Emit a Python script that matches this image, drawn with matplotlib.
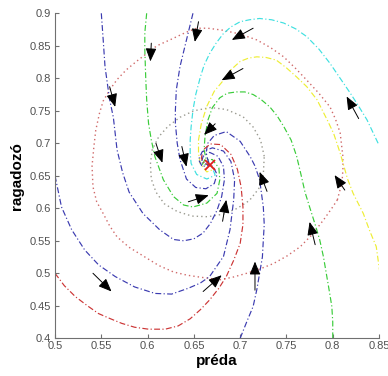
import matplotlib
matplotlib.use("Agg")
import matplotlib.pyplot as plt
from matplotlib.patches import FancyArrowPatch

plt.rcParams['font.family'] = ['Liberation Sans', 'DejaVu Sans']

# ---- trajectories (préda, ragadozó) ----
blue_top_x = [0.550, 0.552, 0.554, 0.559, 0.563, 0.567, 0.573, 0.580, 0.595, 0.613, 0.628, 0.639,
              0.650, 0.660, 0.668, 0.675, 0.680, 0.683, 0.682, 0.676, 0.667, 0.660, 0.658, 0.667]
blue_top_y = [0.900, 0.860, 0.818, 0.767, 0.740, 0.690, 0.655, 0.625, 0.592, 0.567, 0.552, 0.550,
              0.553, 0.562, 0.577, 0.597, 0.618, 0.644, 0.664, 0.680, 0.686, 0.680, 0.670, 0.667]

green_top_x = [0.599, 0.597, 0.597, 0.598, 0.599, 0.601, 0.604, 0.608, 0.617, 0.628, 0.639, 0.649,
               0.664, 0.675, 0.678, 0.677, 0.670, 0.662, 0.659, 0.667]
green_top_y = [0.900, 0.870, 0.844, 0.800, 0.767, 0.731, 0.705, 0.679, 0.644, 0.618, 0.605, 0.602,
               0.608, 0.623, 0.644, 0.662, 0.675, 0.675, 0.667, 0.667]

blue_mid_x = [0.649, 0.642, 0.635, 0.631, 0.630, 0.630, 0.632, 0.635, 0.642, 0.652, 0.663, 0.672,
              0.675, 0.671, 0.667]
blue_mid_y = [0.900, 0.859, 0.818, 0.782, 0.750, 0.731, 0.700, 0.675, 0.645, 0.632, 0.630, 0.638,
              0.652, 0.664, 0.667]

cyan_x = [0.849, 0.843, 0.837, 0.828, 0.819, 0.808, 0.797, 0.785, 0.772, 0.760, 0.747, 0.734, 0.721,
          0.710, 0.700, 0.690, 0.682, 0.674, 0.667, 0.661, 0.657, 0.652, 0.649, 0.647, 0.646, 0.646,
          0.647, 0.653, 0.664, 0.673, 0.670, 0.667]
cyan_y = [0.700, 0.718, 0.736, 0.757, 0.777, 0.800, 0.823, 0.845, 0.864, 0.876, 0.885, 0.890, 0.892,
          0.890, 0.887, 0.879, 0.869, 0.854, 0.838, 0.820, 0.802, 0.775, 0.751, 0.725, 0.705, 0.685,
          0.669, 0.652, 0.645, 0.651, 0.662, 0.667]

yellow_x = [0.851, 0.847, 0.840, 0.833, 0.822, 0.816, 0.808, 0.801, 0.794, 0.783, 0.772, 0.761, 0.750,
            0.739, 0.728, 0.718, 0.709, 0.700, 0.690, 0.682, 0.672, 0.664, 0.658, 0.655, 0.655, 0.657,
            0.664, 0.672, 0.667]
yellow_y = [0.500, 0.541, 0.565, 0.592, 0.623, 0.645, 0.685, 0.715, 0.736, 0.767, 0.787, 0.802, 0.816,
            0.828, 0.832, 0.833, 0.831, 0.826, 0.813, 0.797, 0.780, 0.757, 0.730, 0.705, 0.685, 0.668,
            0.656, 0.660, 0.667]

green_bot_x = [0.800, 0.800, 0.799, 0.796, 0.793, 0.790, 0.786, 0.781, 0.775, 0.770, 0.766, 0.761,
               0.755, 0.747, 0.740, 0.732, 0.722, 0.714, 0.705, 0.696, 0.686, 0.678, 0.670, 0.665,
               0.662, 0.661, 0.663, 0.667]
green_bot_y = [0.400, 0.425, 0.449, 0.475, 0.500, 0.525, 0.551, 0.575, 0.602, 0.625, 0.650, 0.680,
               0.705, 0.726, 0.742, 0.756, 0.768, 0.775, 0.779, 0.779, 0.777, 0.770, 0.755, 0.735,
               0.710, 0.690, 0.677, 0.667]

blue_bot_x = [0.700, 0.707, 0.714, 0.718, 0.721, 0.724, 0.725, 0.726, 0.725, 0.721, 0.716, 0.711,
              0.700, 0.685, 0.672, 0.665, 0.663, 0.665, 0.667]
blue_bot_y = [0.400, 0.425, 0.449, 0.475, 0.500, 0.525, 0.551, 0.575, 0.602, 0.644, 0.665, 0.679,
              0.703, 0.718, 0.712, 0.700, 0.685, 0.675, 0.667]

red_left_x = [0.500, 0.510, 0.522, 0.535, 0.547, 0.560, 0.572, 0.586, 0.601, 0.619, 0.633, 0.646,
              0.657, 0.667, 0.677, 0.685, 0.693, 0.700, 0.703, 0.703, 0.701, 0.697, 0.690, 0.679,
              0.668, 0.660, 0.658, 0.662, 0.667]
red_left_y = [0.500, 0.481, 0.464, 0.450, 0.438, 0.430, 0.423, 0.417, 0.414, 0.414, 0.419, 0.430,
              0.444, 0.459, 0.477, 0.495, 0.520, 0.546, 0.575, 0.602, 0.633, 0.660, 0.683, 0.698,
              0.699, 0.690, 0.677, 0.668, 0.667]

blue_left_x = [0.500, 0.507, 0.518, 0.532, 0.547, 0.565, 0.586, 0.608, 0.626, 0.644, 0.657, 0.667,
               0.682, 0.689, 0.693, 0.694, 0.690, 0.682, 0.670, 0.659, 0.655, 0.659, 0.667]
blue_left_y = [0.650, 0.602, 0.567, 0.536, 0.513, 0.495, 0.479, 0.469, 0.468, 0.477, 0.485, 0.495,
               0.526, 0.567, 0.613, 0.644, 0.672, 0.688, 0.693, 0.687, 0.675, 0.664, 0.667]

orbit_x = [0.805, 0.810, 0.811, 0.811, 0.808, 0.803, 0.797, 0.785, 0.772, 0.760, 0.747, 0.733, 0.718,
           0.700, 0.681, 0.665, 0.653, 0.642, 0.624, 0.610, 0.599, 0.588, 0.577, 0.567, 0.559, 0.552,
           0.548, 0.544, 0.542, 0.540, 0.541, 0.545, 0.552, 0.559, 0.567, 0.580, 0.596, 0.612, 0.628,
           0.643, 0.657, 0.678, 0.692, 0.707, 0.722, 0.736, 0.751, 0.765, 0.778, 0.790, 0.799, 0.805]
orbit_y = [0.613, 0.640, 0.660, 0.679, 0.716, 0.737, 0.756, 0.777, 0.797, 0.815, 0.833, 0.847, 0.859,
           0.868, 0.874, 0.877, 0.877, 0.871, 0.859, 0.850, 0.838, 0.826, 0.813, 0.798, 0.782, 0.765,
           0.746, 0.720, 0.695, 0.665, 0.633, 0.610, 0.592, 0.573, 0.556, 0.540, 0.526, 0.512, 0.502,
           0.497, 0.494, 0.490, 0.494, 0.500, 0.507, 0.515, 0.527, 0.541, 0.560, 0.582, 0.600, 0.613]

inner_x = [0.726, 0.722, 0.714, 0.703, 0.685, 0.668, 0.650, 0.635, 0.622, 0.612, 0.605, 0.603, 0.604,
           0.609, 0.618, 0.632, 0.648, 0.665, 0.682, 0.697, 0.710, 0.720, 0.725, 0.726]
inner_y = [0.680, 0.705, 0.725, 0.741, 0.752, 0.755, 0.750, 0.740, 0.726, 0.710, 0.690, 0.668, 0.645,
           0.625, 0.607, 0.595, 0.588, 0.587, 0.591, 0.600, 0.612, 0.630, 0.652, 0.680]

equilibrium = (0.667, 0.667)

# ---- direction arrows: tail -> head ----
arrow_x0 = [0.559, 0.604, 0.655, 0.609, 0.637, 0.714, 0.703, 0.673, 0.828, 0.813, 0.729, 0.681,
            0.781, 0.716, 0.660, 0.644, 0.541]
arrow_y0 = [0.787, 0.854, 0.887, 0.700, 0.695, 0.877, 0.815, 0.730, 0.738, 0.628, 0.626, 0.580,
            0.544, 0.474, 0.472, 0.610, 0.500]
arrow_x1 = [0.565, 0.603, 0.651, 0.616, 0.642, 0.691, 0.680, 0.661, 0.815, 0.802, 0.721, 0.685,
            0.775, 0.716, 0.680, 0.666, 0.561]
arrow_y1 = [0.756, 0.826, 0.856, 0.670, 0.664, 0.859, 0.797, 0.713, 0.772, 0.651, 0.656, 0.613,
            0.579, 0.518, 0.497, 0.620, 0.472]

BLUE = '#3b3bb0'
GREEN = '#3acc3a'
RED = '#cc3535'
CYAN = '#3fe0e0'
YELLOW = '#eeee35'

fig = plt.figure(figsize=(3.88, 3.76), dpi=100)
ax = fig.add_axes([0.1418, 0.1003, 0.8351, 0.8644])

dd = (5, 2, 1, 2)
lw = 0.85
ax.plot(orbit_x, orbit_y, color='#d06a6a', lw=1.0, ls=(0, (1, 2.2)))
ax.plot(inner_x, inner_y, color='#9a9a90', lw=1.0, ls=(0, (1, 2.2)))
ax.plot(blue_top_x, blue_top_y, color=BLUE, lw=lw, ls=(0, dd))
ax.plot(green_top_x, green_top_y, color=GREEN, lw=lw, ls=(0, dd))
ax.plot(blue_mid_x, blue_mid_y, color=BLUE, lw=lw, ls=(0, dd))
ax.plot(cyan_x, cyan_y, color=CYAN, lw=lw, ls=(0, dd))
ax.plot(yellow_x, yellow_y, color=YELLOW, lw=lw, ls=(0, dd))
ax.plot(green_bot_x, green_bot_y, color=GREEN, lw=lw, ls=(0, dd))
ax.plot(blue_bot_x, blue_bot_y, color=BLUE, lw=lw, ls=(0, dd))
ax.plot(red_left_x, red_left_y, color=RED, lw=lw, ls=(0, dd))
ax.plot(blue_left_x, blue_left_y, color=BLUE, lw=lw, ls=(0, dd))
ax.plot([equilibrium[0]], [equilibrium[1]], marker='x', color='#e02020', ms=7, mew=1.3)

for x0, y0, x1, y1 in zip(arrow_x0, arrow_y0, arrow_x1, arrow_y1):
    ax.add_patch(FancyArrowPatch((x0, y0), (x1, y1),
                                 arrowstyle='-|>,head_length=0.8,head_width=0.33',
                                 mutation_scale=10, color='black', lw=0.7,
                                 shrinkA=0, shrinkB=0, zorder=5))

ax.set_xlim(0.5, 0.85)
ax.set_ylim(0.4, 0.9)
ax.set_xticks([0.5, 0.55, 0.6, 0.65, 0.7, 0.75, 0.8, 0.85])
ax.set_xticklabels(['0.5', '0.55', '0.6', '0.65', '0.7', '0.75', '0.8', '0.85'])
ax.set_yticks([0.4, 0.45, 0.5, 0.55, 0.6, 0.65, 0.7, 0.75, 0.8, 0.85, 0.9])
ax.set_yticklabels(['0.4', '0.45', '0.5', '0.55', '0.6', '0.65', '0.7', '0.75', '0.8', '0.85', '0.9'])

for s in ['top', 'right']:
    ax.spines[s].set_visible(False)
for s in ['left', 'bottom']:
    ax.spines[s].set_color('#707070')
    ax.spines[s].set_linewidth(0.8)
ax.tick_params(direction='in', length=3, width=0.8, color='#707070',
               labelcolor='#505050', labelsize=8)
ax.tick_params(axis='x', pad=2)
ax.tick_params(axis='y', pad=3)

ax.set_xlabel('préda', fontsize=11, fontweight='bold', labelpad=2)
ax.set_ylabel('ragadozó', fontsize=11, fontweight='bold', labelpad=4)

fig.savefig('out.png', dpi=100)
